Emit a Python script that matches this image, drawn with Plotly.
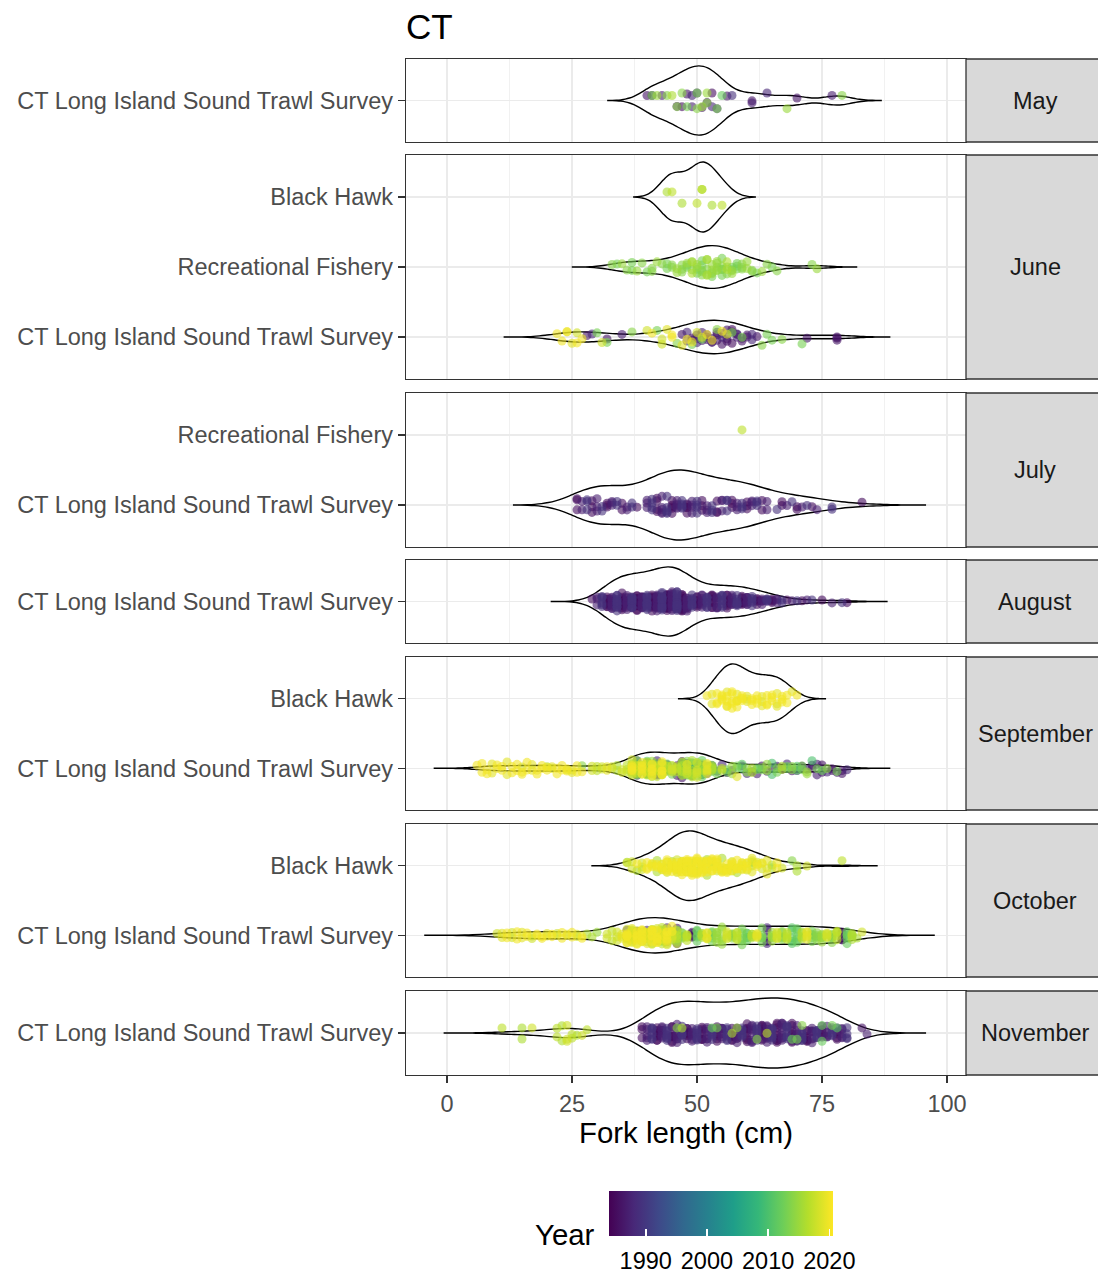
import numpy as np
import plotly.graph_objects as go
from plotly.subplots import make_subplots
from plotly.colors import sample_colorscale

# ---------------- categories ----------------
CT = "CT Long Island Sound Trawl Survey"
RF = "Recreational Fishery"
BH = "Black Hawk"

months = ["May", "June", "July", "August", "September", "October", "November"]
month_sources = {                      # bottom -> top
    "May": [CT],
    "June": [CT, RF, BH],
    "July": [CT, RF],
    "August": [CT],
    "September": [CT, BH],
    "October": [CT, BH],
    "November": [CT],
}
x_ticks = [0, 25, 50, 75, 100]
year_ticks = [1990, 2000, 2010, 2020]
year_min, year_max = 1984, 2020.6

# ---------------- data: fork length (cm), year, count ----------------
may_ct_len = [40, 41, 41, 42, 43, 44, 45, 46, 48, 49, 50, 51, 52, 52, 53, 54, 54, 55, 56, 57, 61, 61, 64, 68, 70, 77, 79,
              46, 47, 48, 49, 50, 51, 52, 53, 47, 50]
may_ct_year = [1986, 1985, 2013, 2015, 1987, 2014, 2016, 2014, 1986, 1988, 2013, 2015, 1986, 2014, 1985, 2013, 1987, 2012,
               1986, 1989, 1986, 1987, 1988, 2015, 1986, 1987, 2014,
               1986, 2014, 2013, 1987, 2014, 1986, 2015, 1988, 1985, 1987]
may_ct_n = None

jun_bh_len = [44, 45, 47, 50, 51, 51, 53, 55]
jun_bh_year = [2016, 2017, 2016, 2017, 2016, 2017, 2016, 2017]
jun_bh_n = None

jun_rf_len = [33, 34, 35, 36, 37, 38, 39, 40, 41, 42, 43, 44, 45, 46, 47,
              48, 48, 49, 49, 50, 50, 51, 51, 52, 52, 53, 53, 54, 54, 55, 55, 56, 56, 57, 57,
              58, 59, 60, 61, 62, 63, 64, 65, 66, 73, 74]
jun_rf_year = [2014, 2013, 2015, 2014, 2013, 2015, 2014, 2013, 2014, 2015, 2014, 2013, 2014, 2015, 2014,
               2013, 2015, 2014, 2016, 2015, 2013, 2013, 2014, 2014, 2016, 2015, 2013, 2014, 2015, 2013, 2014, 2014, 2016, 2015, 2013,
               2013, 2014, 2015, 2014, 2013, 2015, 2014, 2013, 2014, 2014, 2015]
jun_rf_n = [1, 1, 1, 1, 2, 1, 1, 1, 2, 1, 1, 2, 2, 2, 3,
            2, 1, 2, 2, 2, 2, 3, 2, 3, 2, 3, 2, 3, 2, 3, 2, 2, 2, 2, 2,
            3, 3, 2, 2, 1, 1, 1, 1, 1, 1, 1]

jun_ct_len = [22, 23, 24, 24, 25, 26, 26, 27, 28, 29, 30, 31, 32, 32, 35, 37,
              40, 41, 42, 43, 44, 45, 46, 47, 47,
              48, 48, 49, 49, 49, 50, 50, 50, 51, 51, 51, 52, 52, 53, 53, 53, 54, 54, 55, 55, 55,
              56, 56, 57, 57, 58, 59, 59, 60, 61,
              62, 63, 64, 65, 67, 71, 72, 78]
jun_ct_year = [2020, 2020, 2020, 2019, 2019, 2018, 2020, 2020, 1986, 1988, 2013, 2018, 1986, 2013, 1987, 2014,
               2018, 2020, 2013, 2018, 2019, 2020, 2014, 2019, 1986,
               1988, 2020, 2020, 1986, 2013, 1988, 2018, 1986, 2018, 1987, 2013, 1986, 2020, 2020, 1987, 1986,
               1986, 2014, 2020, 1988, 1986,
               1986, 2018, 1985, 2013, 1987, 1986, 2013, 1986, 1988,
               1986, 2014, 2013, 2013, 2014, 2013, 1986, 1986]
jun_ct_n = [1, 1, 1, 1, 1, 1, 1, 1, 1, 1, 1, 1, 1, 1, 1, 1,
            1, 1, 1, 2, 1, 2, 1, 1, 1,
            2, 1, 1, 2, 1, 2, 1, 1, 1, 2, 1, 3, 1, 1, 2, 1, 3, 1, 1, 2, 1,
            3, 1, 3, 1, 3, 2, 1, 2, 2,
            1, 1, 1, 1, 1, 1, 1, 3]

jul_rf_len = [59]
jul_rf_year = [2017]
jul_rf_n = None

jul_ct_len = [26, 27, 28, 29, 30, 31, 32, 33, 34, 35, 36, 37, 38,
              40, 41, 42, 43, 44, 45, 46, 47, 48, 49, 50, 51, 52, 53, 54, 55, 56, 57, 58, 59, 60, 61, 62, 63, 64,
              66, 67, 68, 69, 70, 71, 72, 73, 74, 77, 83]
jul_ct_year = [1985, 1987, 1989, 1985, 1987, 1989, 1985, 1987, 1989, 1985,
               1987, 1989, 1985, 1987, 1989, 1985, 1987, 1989, 1985, 1987,
               1989, 1985, 1987, 1989, 1985, 1987, 1989, 1985, 1987, 1989,
               1985, 1987, 1989, 1985, 1987, 1989, 1985, 1987, 1989, 1985,
               1987, 1989, 1985, 1987, 1989, 1985, 1987, 1989, 1985]
jul_ct_n = [3, 2, 3, 3, 3, 2, 3, 3, 2, 2, 2, 2, 1,
            3, 4, 4, 5, 5, 5, 5, 5, 5, 4, 4, 3, 3, 3, 3, 3, 3, 3, 3, 3, 3, 3, 3, 2, 2,
            1, 2, 1, 1, 2, 1, 1, 1, 1, 2, 1]

aug_ct_len = [29, 30, 31, 32, 33, 34, 35, 36, 37, 38,
              39, 40, 41, 42, 43, 44, 45, 46, 47, 48,
              49, 50, 51, 52, 53, 54, 55, 56, 57, 58,
              59, 60, 61, 62, 63, 64, 65, 66, 67, 68,
              69, 70, 71, 72, 73, 75, 77, 79, 80]
aug_ct_year = [1985, 1987, 1989, 1985, 1987, 1989, 1985, 1987, 1989, 1985,
               1987, 1989, 1985, 1987, 1989, 1985, 1987, 1989, 1985, 1987,
               1989, 1985, 1987, 1989, 1985, 1987, 1989, 1985, 1987, 1989,
               1985, 1987, 1989, 1985, 1987, 1989, 1985, 1987, 1989, 1985,
               1987, 1989, 1985, 1987, 1989, 1985, 1987, 1989, 1985]
aug_ct_n = [1, 3, 6, 9, 12, 14, 14, 14, 14, 14,
            14, 14, 14, 15, 18, 20, 20, 20, 18, 14,
            9, 8, 8, 8, 8, 8, 8, 8, 8, 8,
            8, 8, 6, 5, 5, 5, 4, 3, 2, 1,
            1, 1, 1, 1, 1, 1, 1, 1, 1]

sep_bh_len = [52, 53, 54, 55, 56, 56, 57, 58, 58, 59, 60, 61, 62, 63, 64, 65, 66, 67, 68, 69, 70]
sep_bh_year = [2020, 2019, 2020, 2020, 2019, 2020, 2020, 2019, 2020, 2020, 2019, 2020, 2020, 2019, 2020, 2020,
               2019, 2020, 2020, 2019, 2020]
sep_bh_n = [1, 2, 3, 4, 2, 3, 5, 2, 3, 4, 3, 3, 3, 3, 3, 3, 3, 3, 2, 1, 1]

sep_ct_len = [6, 7, 8, 9, 10, 11, 12, 13, 14, 15, 15, 16, 17, 18, 19, 20, 20, 21, 22, 23, 24, 24, 25, 26, 27, 27,
              29, 30, 31, 32, 33, 34, 35, 36,
              37, 37, 37, 38, 38, 38, 39, 39, 39, 40, 40, 40, 41, 41, 41, 42, 42, 42, 43, 43, 43, 44, 44, 44,
              45, 45, 46, 46,
              47, 47, 47, 48, 48, 48, 49, 49, 49, 50, 50, 50, 51, 51, 51, 52, 52, 52, 53, 53, 53,
              54, 54, 55, 55, 56, 56, 57, 57, 58, 58, 59, 59, 60, 60, 61, 61, 62, 62, 63, 63, 64, 64, 65, 65,
              66, 66, 67, 67, 68, 68, 69, 69, 70, 70, 71, 71, 72, 72, 73, 73, 74, 74, 75, 75, 76, 76,
              77, 78, 78, 79, 80]
sep_ct_year = [2020, 2020, 2020, 2019, 2020, 2020, 2019, 2020, 2020, 2018, 2020, 2020, 2019, 2020, 2020, 2016, 2020,
               2019, 2020, 2020, 2018, 2020, 2019, 2020, 2014, 2020,
               2018, 2017, 2018, 2019, 2018, 2016, 2018, 2017,
               2018, 2020, 2014, 2017, 2013, 1987, 2018, 2020, 2014, 2017, 2012, 1986, 2018, 2020, 2015,
               2017, 2013, 1988, 2018, 2020, 2014, 2016, 2012, 1986,
               2018, 2013, 2017, 1986,
               2016, 2012, 1986, 2018, 2014, 1988, 2016, 2011, 1986, 2018, 2013, 1987, 2015, 2012, 1986,
               2019, 2014, 1988, 2016, 2012, 1986,
               2013, 1986, 2017, 1988, 2012, 1986, 2015, 1987, 2013, 2019, 2011, 1986, 2014, 1988, 2016, 1986,
               2012, 1987, 2013, 1986, 2015, 1988, 2010, 1986, 2013, 1987, 2016, 1986, 2012, 1988, 2014, 1986,
               2011, 1987, 2013, 1986, 2015, 1988, 2010, 1986, 2013, 1987, 2012, 1986, 2014, 1988,
               1986, 2013, 1987, 1986, 1988]
sep_ct_n = [1, 2, 2, 2, 2, 2, 2, 2, 2, 1, 2, 2, 2, 2, 2, 1, 2, 2, 2, 2, 1, 2, 2, 2, 1, 1,
            2, 2, 2, 2, 2, 2, 2, 3,
            6, 4, 4, 6, 4, 4, 6, 4, 4, 6, 4, 4, 6, 4, 4, 6, 4, 4, 6, 4, 4, 5, 4, 4,
            4, 4, 4, 4,
            5, 5, 4, 5, 5, 4, 5, 5, 4, 5, 5, 4, 5, 5, 4, 5, 5, 4, 5, 4, 4,
            2, 1, 2, 1, 2, 1, 2, 1, 2, 1, 2, 1, 2, 1, 2, 1, 2, 1, 2, 1, 2, 1, 2, 1,
            2, 1, 2, 1, 2, 1, 2, 1, 2, 1, 2, 1, 2, 1, 1, 2, 1, 2, 1, 2, 1, 1,
            2, 1, 1, 2, 1]

oct_bh_len = [36, 36, 37, 38, 38, 39, 40, 41, 41, 42, 42, 43, 43, 44, 44, 45, 45, 46, 46, 47,
              47, 48, 48, 49, 49, 50, 50, 51, 51, 52, 52, 53, 53, 54, 54, 55, 55, 56, 56, 57,
              57, 58, 58, 59, 59, 60, 60, 61, 61, 62, 62, 63, 63, 64, 65, 66, 67, 69, 70, 72, 79]
oct_bh_year = [2016, 2018, 2018, 2016, 2020, 2018, 2020, 2018, 2020, 2016, 2020, 2018, 2020, 2018, 2020, 2016, 2020,
               2018, 2020, 2018, 2020, 2018, 2020, 2016, 2020, 2018, 2020, 2018, 2020, 2016, 2020, 2018, 2020, 2018,
               2020, 2016, 2020, 2018, 2020, 2018, 2020, 2016, 2020, 2018, 2020, 2018, 2020, 2016, 2019, 2018,
               2020, 2018, 2020, 2019, 2016, 2020, 2018, 2014, 2016, 2018, 2017]
oct_bh_n = [1, 1, 2, 1, 1, 3, 3, 2, 2, 2, 3, 3, 3, 3, 4, 3, 6, 4, 6, 5,
            7, 5, 7, 4, 8, 4, 7, 4, 6, 3, 6, 3, 5, 3, 5, 3, 4, 3, 4, 3,
            4, 2, 4, 3, 3, 2, 3, 2, 3, 2, 2, 2, 1, 3, 2, 2, 1, 1, 2, 1, 1]

oct_ct_len = [10, 11, 12, 13, 14, 15, 16, 17, 18, 19, 20, 21, 22, 23, 24, 25, 26, 27, 28,
              29, 30, 32, 33, 34, 35,
              36, 36, 36, 37, 37, 37, 38, 38, 38, 39, 39, 39, 40, 40, 40, 41, 41, 41, 42, 42, 42,
              43, 43, 43, 44, 44, 44, 45, 45, 45, 46, 46, 46,
              47, 48, 49, 50, 51, 52, 53, 54, 55, 56, 57, 58, 59, 60, 61, 62, 63, 64,
              65, 66, 67, 68, 69, 70, 71, 72, 73, 74, 75, 76, 77, 78, 79, 80, 81,
              82, 83]
oct_ct_year = [2018, 2019, 2020, 2018, 2020, 2019, 2020, 2018, 2020, 2020, 2019, 2020, 2018, 2020, 2019, 2020,
               2018, 2020, 2016,
               2016, 2015, 2018, 2017, 2018, 2019,
               2020, 2018, 1987, 2019, 2017, 2014, 2020, 2018, 1986, 2020, 2018, 2013, 2019, 2017, 1988,
               2020, 2018, 2015, 2020, 2018, 1986, 2019, 2017, 2012, 2020, 2018, 1987, 2018, 2015, 2020,
               2017, 2013, 1986,
               2014, 2017, 1986, 2012, 2016, 2019, 2013, 2015, 2015, 2018, 2014, 2017, 2013, 2012, 2016, 2019,
               2013, 1988, 2015, 2018, 2014, 2017, 2011, 2012, 2016, 2019, 2013, 2014, 2015, 2018, 2014, 2017,
               1986, 2012, 2016,
               2016, 2018]
oct_ct_n = [1, 2, 2, 2, 2, 2, 2, 2, 2, 2, 2, 2, 2, 2, 2, 2, 2, 2, 1,
            1, 1, 2, 2, 3, 3,
            6, 5, 1, 6, 5, 1, 6, 5, 1, 6, 5, 1, 6, 5, 1, 6, 5, 1, 6, 5, 1,
            5, 5, 2, 5, 5, 2, 5, 4, 2, 4, 4, 2,
            5, 5, 5, 5, 5, 5, 5, 5, 5, 5, 5, 5, 5, 5, 5, 5, 5, 5,
            5, 5, 5, 5, 5, 5, 5, 5, 5, 5, 5, 5, 5, 5, 5, 5, 5,
            1, 1]

nov_ct_len = [11, 15, 17, 22, 23, 24, 25, 26, 27, 28,
              39, 40, 41, 42, 43, 44, 45, 46, 47, 48, 49, 50, 51, 52, 53, 54, 55, 56, 57, 58,
              59, 60, 61, 62, 63, 64, 65, 66, 67, 68, 69, 70, 71, 72, 73, 74, 75, 76, 77, 78, 79, 80,
              46, 47, 53, 54, 57, 58, 62, 64, 69, 70, 71, 75, 77, 78,
              83, 84]
nov_ct_year = [2017, 2016, 2018, 2017, 2016, 2018, 2017, 2016, 2018, 2017,
               1985, 1987, 1989, 1985, 1987, 1989, 1985, 1987, 1989, 1985,
               1987, 1989, 1985, 1987, 1989, 1985, 1987, 1989, 1985, 1987,
               1989, 1985, 1987, 1989, 1985, 1987, 1989, 1985, 1987, 1989,
               1985, 1987, 1989, 1985, 1987, 1989, 1985, 1987, 1989, 1985,
               1987, 1989,
               2014, 2016, 2012, 2013, 2016, 2015, 2014, 2017, 2012, 2013, 2014, 2012, 2013, 2011,
               1986, 1987]
nov_ct_n = [1, 2, 1, 2, 2, 3, 2, 1, 1, 1,
            3, 5, 7, 8, 8, 8, 8, 8, 8, 8, 8, 8, 7, 7, 7, 7, 7, 7, 7, 7,
            7, 8, 8, 8, 9, 9, 9, 9, 9, 8, 8, 8, 8, 7, 7, 7, 5, 5, 5, 5, 5, 4,
            1, 1, 1, 1, 1, 1, 1, 1, 1, 1, 1, 2, 1, 1,
            1, 1]

groups = [
    ("May", CT, may_ct_len, may_ct_year, may_ct_n),
    ("June", BH, jun_bh_len, jun_bh_year, jun_bh_n),
    ("June", RF, jun_rf_len, jun_rf_year, jun_rf_n),
    ("June", CT, jun_ct_len, jun_ct_year, jun_ct_n),
    ("July", RF, jul_rf_len, jul_rf_year, jul_rf_n),
    ("July", CT, jul_ct_len, jul_ct_year, jul_ct_n),
    ("August", CT, aug_ct_len, aug_ct_year, aug_ct_n),
    ("September", BH, sep_bh_len, sep_bh_year, sep_bh_n),
    ("September", CT, sep_ct_len, sep_ct_year, sep_ct_n),
    ("October", BH, oct_bh_len, oct_bh_year, oct_bh_n),
    ("October", CT, oct_ct_len, oct_ct_year, oct_ct_n),
    ("November", CT, nov_ct_len, nov_ct_year, nov_ct_n),
]

# ---------------- layout geometry (pixels) ----------------
W, H = 1098, 1274
PL, PR = 406, 966          # panel left / right
PT, PB = 59, 1075          # plot area top / bottom
panel_px = [(59, 142), (155, 379), (393, 547), (560, 643), (657, 810), (824, 977), (991, 1075)]
ph = PB - PT
pw = PR - PL
VIOLIN_W = 1.0


def ypaper(py):
    return (PB - py) / ph


def xpaper(px):
    return (px - PL) / pw


FONT = "Liberation Sans, Arial, sans-serif"
GRID = "#EBEBEB"
LINE = "#333333"
TXT = "#4D4D4D"


def expand(lens, years, ns):
    if ns is None:
        ns = [1] * len(lens)
    assert len(lens) == len(years) == len(ns), (len(lens), len(years), len(ns))
    x = np.repeat(np.asarray(lens, float), ns)
    yr = np.repeat(np.asarray(years, float), ns)
    return x, yr


def nrd0(x):
    sd = np.std(x, ddof=1)
    q75, q25 = np.percentile(x, [75, 25])
    lo = min(sd, (q75 - q25) / 1.34)
    if lo <= 0:
        lo = sd if sd > 0 else 1.0
    return 0.9 * lo * len(x) ** -0.2


def max_kde(x, bw):
    grid = np.linspace(x.min() - 3 * bw, x.max() + 3 * bw, 512)
    d = np.exp(-0.5 * ((grid[:, None] - x[None, :]) / bw) ** 2).sum(axis=1)
    return (d / (len(x) * bw * np.sqrt(2 * np.pi))).max()


def ycolor(y):
    t = (y - year_min) / (year_max - year_min)
    t = min(max(t, 0.0), 1.0)
    return sample_colorscale("Viridis", [t])[0]


# area scaling of violins within each panel (like ggplot scale = "area")
vinfo = {}
for month, src, lens, years, ns in groups:
    x, yr = expand(lens, years, ns)
    if len(x) < 2:
        continue
    bw = nrd0(x)
    vinfo[(month, src)] = (x, bw, max_kde(x, bw))
panel_max = {}
for (month, src), (_, _, mk) in vinfo.items():
    panel_max[month] = max(panel_max.get(month, 0), mk)

fig = make_subplots(rows=7, cols=1, shared_xaxes=True, vertical_spacing=0.005)
row_of = {m: i + 1 for i, m in enumerate(months)}

# violins first
for (month, src), (x, bw, mk) in vinfo.items():
    fig.add_trace(go.Violin(
        x=x, y=[src] * len(x), orientation="h", points=False,
        line=dict(color="black", width=1.4), fillcolor="rgba(0,0,0,0)",
        width=VIOLIN_W * mk / panel_max[month], scalegroup=f"{month}|{src}", scalemode="width",
        bandwidth=bw, spanmode="manual", span=[x.min() - 3 * bw, x.max() + 3 * bw],
        box=dict(visible=False), meanline=dict(visible=False),
        hoverinfo="skip", showlegend=False,
    ), row=row_of[month], col=1)

# jittered points, coloured by year
for month, src, lens, years, ns in groups:
    x, yr = expand(lens, years, ns)
    for y in sorted(set(yr.tolist())):
        xs = x[yr == y]
        fig.add_trace(go.Box(
            x=xs, y=[src] * len(xs), orientation="h",
            boxpoints="all", jitter=1, pointpos=0, width=0.28,
            fillcolor="rgba(0,0,0,0)", line=dict(width=0, color="rgba(0,0,0,0)"),
            marker=dict(size=9, color=ycolor(y), opacity=0.6, line=dict(width=0)),
            hoverinfo="skip", showlegend=False,
        ), row=row_of[month], col=1)

# colour bars: one with labels, overlays carrying the white tick marks
cb_common = dict(orientation="h", thickness=45, thicknessmode="pixels", len=224, lenmode="pixels",
                 x=xpaper(721), xanchor="center", y=ypaper(1191), yanchor="top",
                 xpad=0, ypad=0, outlinewidth=0, tickmode="array", tickvals=year_ticks)
cb_specs = [
    dict(ticks="outside", ticklen=5, tickcolor="rgba(0,0,0,0)",
         tickfont=dict(size=23.5, color="black", family=FONT)),
    dict(ticks="inside", ticklen=7, tickwidth=1.6, tickcolor="white", showticklabels=False),
]
for spec in cb_specs:
    fig.add_trace(go.Scatter(
        x=[-1000], y=[CT], mode="markers", hoverinfo="skip", showlegend=False,
        marker=dict(size=1, color=[year_min], colorscale="Viridis", cmin=year_min, cmax=year_max,
                    showscale=True, colorbar=dict(**cb_common, **spec)),
    ), row=1, col=1)

shapes = []
annotations = []
for i, m in enumerate(months):
    r = i + 1
    top, bot = panel_px[i]
    cats = month_sources[m]
    yk = "yaxis" if r == 1 else f"yaxis{r}"
    xk = "xaxis" if r == 1 else f"xaxis{r}"
    fig.layout[yk].update(
        domain=[ypaper(bot), ypaper(top)], type="category",
        categoryorder="array", categoryarray=cats, range=[-0.6, len(cats) - 0.4],
        showgrid=True, gridcolor=GRID, gridwidth=1.3, zeroline=False,
        ticks="outside", ticklen=7, tickwidth=1.3, tickcolor=LINE,
        tickfont=dict(size=23.5, color=TXT, family=FONT),
        showline=True, mirror=True, linecolor=LINE, linewidth=1.3, fixedrange=True,
    )
    fig.layout[xk].update(
        range=[-8.2, 103.8], tickmode="array", tickvals=x_ticks,
        showgrid=True, gridcolor=GRID, gridwidth=1.3, zeroline=False,
        minor=dict(tickvals=[12.5, 37.5, 62.5, 87.5], showgrid=True, gridcolor=GRID, gridwidth=0.7),
        showline=True, mirror=True, linecolor=LINE, linewidth=1.3, fixedrange=True,
    )
    if r == 7:
        fig.layout[xk].update(
            ticks="outside", ticklen=7, tickwidth=1.3, tickcolor=LINE, showticklabels=True,
            tickfont=dict(size=23.5, color=TXT, family=FONT),
            title=dict(text="Fork length (cm)", font=dict(size=29.4, color="black", family=FONT), standoff=6),
        )
    # strip
    shapes.append(dict(type="rect", xref="paper", yref="paper", x0=1.0, x1=1.3,
                       y0=ypaper(bot), y1=ypaper(top), fillcolor="#D9D9D9",
                       line=dict(color=LINE, width=1.3)))
    annotations.append(dict(text=m, xref="paper", yref="paper", x=xpaper(1035),
                            y=ypaper((top + bot) / 2), xanchor="center", yanchor="middle",
                            showarrow=False, font=dict(size=23.5, color="#1A1A1A", family=FONT)))

annotations.append(dict(text="Year", xref="paper", yref="paper", x=xpaper(597), y=ypaper(1234),
                        xanchor="right", yanchor="middle", showarrow=False,
                        font=dict(size=29.4, color="black", family=FONT)))

fig.update_layout(
    width=W, height=H,
    margin=dict(l=PL, r=W - PR, t=PT, b=H - PB, autoexpand=False),
    template="none",
    plot_bgcolor="white", paper_bgcolor="white",
    font=dict(family=FONT, size=23.5, color=TXT),
    violinmode="overlay", boxmode="overlay", showlegend=False,
    title=dict(text="CT", x=PL / W, xanchor="left", xref="container",
               y=1 - 27 / H, yanchor="middle",
               font=dict(size=35, color="black", family=FONT)),
    shapes=shapes, annotations=annotations,
)

fig.write_html("out.html",
               config={"displayModeBar": False, "staticPlot": True},
               post_script="document.body.style.margin='0';document.body.style.overflow='hidden';")
